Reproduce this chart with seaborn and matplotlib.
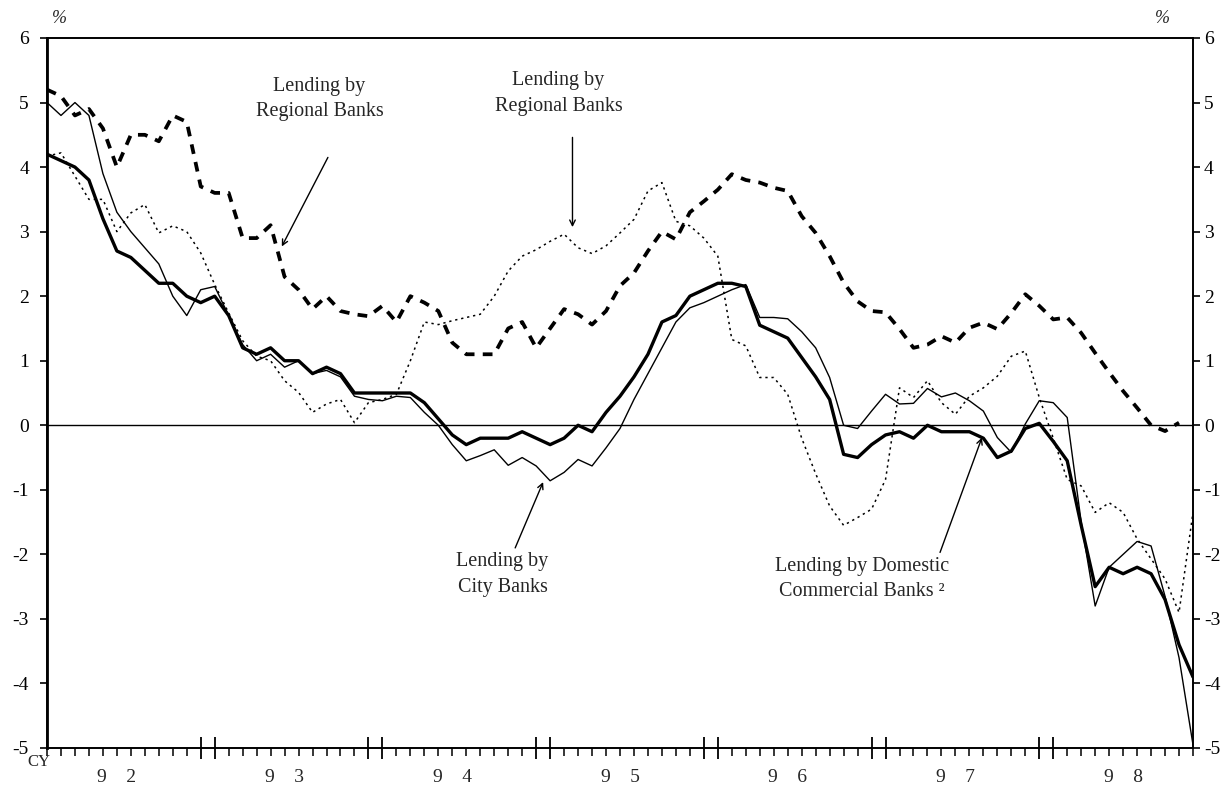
import numpy as np
import matplotlib
matplotlib.use("Agg")
import matplotlib.pyplot as plt
import seaborn as sns

# monthly, Jan 1992 .. Nov 1998 (month index 0 = Jan 92)
months = np.arange(83)
year_labels = ["9    2", "9    3", "9    4", "9    5", "9    6", "9    7", "9    8"]
year_starts = [0, 12, 24, 36, 48, 60, 72]

# thick solid: domestic commercial banks
domestic = [4.2, 4.1, 4.0, 3.8, 3.2, 2.7, 2.6, 2.4, 2.2, 2.2, 2.0, 1.9,
            2.0, 1.7, 1.2, 1.1, 1.2, 1.0, 1.0, 0.8, 0.9, 0.8, 0.5, 0.5,
            0.5, 0.5, 0.5, 0.35, 0.1, -0.15, -0.3, -0.2, -0.2, -0.2, -0.1, -0.2,
            -0.3, -0.2, 0.0, -0.1, 0.2, 0.45, 0.75, 1.1, 1.6, 1.7, 2.0, 2.1,
            2.2, 2.2, 2.15, 1.55, 1.45, 1.35, 1.05, 0.75, 0.4, -0.45, -0.5, -0.3,
            -0.15, -0.1, -0.2, 0.0, -0.1, -0.1, -0.1, -0.2, -0.5, -0.4, -0.05, 0.03,
            -0.25, -0.55, -1.55, -2.5, -2.2, -2.3, -2.2, -2.3, -2.7, -3.4, -3.9]

# thin solid: city banks
city = [5.0, 4.8, 5.0, 4.8, 3.9, 3.3, 3.0, 2.75, 2.5, 2.0, 1.7, 2.1,
        2.15, 1.7, 1.25, 1.0, 1.1, 0.9, 1.0, 0.8, 0.85, 0.75, 0.45, 0.4,
        0.38, 0.45, 0.43, 0.2, 0.0, -0.3, -0.55, -0.47, -0.38, -0.62, -0.5, -0.63,
        -0.86, -0.73, -0.53, -0.63, -0.35, -0.05, 0.4, 0.8, 1.2, 1.6, 1.82, 1.9,
        2.0, 2.1, 2.18, 1.67, 1.67, 1.65, 1.45, 1.2, 0.74, 0.0, -0.05, 0.22,
        0.48, 0.33, 0.34, 0.57, 0.44, 0.5, 0.38, 0.22, -0.19, -0.42, 0.02, 0.38,
        0.35, 0.12, -1.5, -2.8, -2.2, -2.0, -1.8, -1.87, -2.65, -3.6, -4.95]

# thick dashed: regional banks
regional = [5.2, 5.1, 4.8, 4.9, 4.6, 4.0, 4.5, 4.5, 4.4, 4.8, 4.7, 3.7,
            3.6, 3.6, 2.9, 2.9, 3.1, 2.3, 2.1, 1.8, 2.0, 1.77, 1.72, 1.69,
            1.85, 1.6, 2.0, 1.9, 1.77, 1.28, 1.1, 1.1, 1.1, 1.5, 1.6, 1.2,
            1.5, 1.8, 1.72, 1.56, 1.77, 2.16, 2.36, 2.7, 3.0, 2.88, 3.3, 3.47,
            3.65, 3.89, 3.8, 3.76, 3.68, 3.63, 3.24, 2.98, 2.62, 2.21, 1.92, 1.77,
            1.75, 1.49, 1.2, 1.25, 1.38, 1.28, 1.51, 1.59, 1.49, 1.74, 2.03, 1.85,
            1.64, 1.67, 1.43, 1.12, 0.82, 0.53, 0.27, 0.0, -0.09, 0.04, np.nan]

# thin dotted: regional banks (second group)
regional2 = [4.17, 4.22, 3.86, 3.5, 3.5, 3.0, 3.29, 3.42, 2.98, 3.09, 3.0, 2.67,
             2.18, 1.74, 1.31, 1.07, 1.0, 0.69, 0.51, 0.2, 0.33, 0.4, 0.04, 0.35,
             0.4, 0.48, 1.0, 1.6, 1.56, 1.62, 1.67, 1.72, 2.0, 2.39, 2.62, 2.72,
             2.85, 2.96, 2.75, 2.66, 2.78, 2.98, 3.19, 3.63, 3.76, 3.16, 3.09, 2.9,
             2.62, 1.33, 1.23, 0.74, 0.74, 0.48, -0.2, -0.75, -1.25, -1.55, -1.43, -1.3,
             -0.84, 0.58, 0.43, 0.69, 0.35, 0.17, 0.45, 0.58, 0.76, 1.07, 1.15, 0.43,
             -0.2, -0.84, -0.94, -1.35, -1.2, -1.35, -1.76, -2.07, -2.38, -2.9, -1.35]

sns.set_style("white")
plt.rcParams['font.family'] = ['Liberation Serif', 'DejaVu Serif']
plt.rcParams['axes.unicode_minus'] = False

fig = plt.figure(figsize=(12.29, 7.89), dpi=100)
ax = fig.add_axes([47/1229, 1 - 748/789, (1193 - 47)/1229, (748 - 38)/789])

ax.axhline(0, color='black', lw=1.0)

sns.lineplot(x=months, y=regional2, ax=ax, color='black', lw=1.1,
             linestyle=(0, (1.5, 2.5)))
sns.lineplot(x=months, y=regional, ax=ax, color='black', lw=2.7,
             linestyle=(0, (2.6, 2.2)))
sns.lineplot(x=months, y=city, ax=ax, color='black', lw=1.0)
sns.lineplot(x=months, y=domestic, ax=ax, color='black', lw=2.4)

ax.set_xlim(0, 82)
ax.set_ylim(-5, 6)
ax.set_yticks(range(-5, 7))
ax.tick_params(axis='y', left=True, right=False, labelleft=True, labelright=False,
               direction='out', length=5, width=1.2, labelsize=14, pad=8,
               colors='black')

# right-hand scale
ax2 = ax.twinx()
ax2.set_ylim(-5, 6)
ax2.set_yticks(range(-5, 7))
ax2.tick_params(axis='y', right=True, labelright=True, direction='out', length=5,
                width=1.2, labelsize=14, pad=3, colors='black')
ax2.grid(False)

# year boundary ticks (Dec / Jan) long, monthly ticks short
bounds = []
for s in year_starts[1:]:
    bounds += [s - 1, s]
ax.set_xticks(bounds)
ax.set_xticks(months, minor=True)
ax.set_xticklabels([])
ax.tick_params(axis='x', which='major', direction='inout', length=16, width=1.3,
               bottom=True, colors='black')
ax.tick_params(axis='x', which='minor', direction='out', length=6, width=1.1,
               bottom=True, colors='black')

for a in (ax, ax2):
    for sp in a.spines.values():
        sp.set_color('black')
        sp.set_linewidth(1.2)
ax.spines['left'].set_linewidth(2)
ax.set_xlabel('')
ax.set_ylabel('')

for s, lab in zip(year_starts, year_labels):
    ax.text(s + 5, -5.45, lab, ha='center', va='center', fontsize=14, clip_on=False)
ax.text(-0.55, -5.22, 'CY', ha='center', va='center', fontsize=12, clip_on=False)
ax.text(0.9, 6.3, '%', ha='center', va='center', fontsize=13, style='italic', clip_on=False)
ax.text(79.8, 6.3, '%', ha='center', va='center', fontsize=13, style='italic', clip_on=False)

arrow = dict(arrowstyle='->', color='black', lw=1.0, shrinkA=0, shrinkB=0)
txt = dict(ha='center', va='center', fontsize=14.5, linespacing=1.45)

ax.text(19.5, 5.05, 'Lending by\nRegional Banks', **txt)
ax.annotate('', xy=(16.8, 2.77), xytext=(20.1, 4.15), arrowprops=arrow)

ax.text(36.6, 5.14, 'Lending by\nRegional Banks', **txt)
ax.annotate('', xy=(37.6, 3.07), xytext=(37.6, 4.46), arrowprops=arrow)

ax.text(32.6, -2.31, 'Lending by\nCity Banks', **txt)
ax.annotate('', xy=(35.5, -0.88), xytext=(33.5, -1.9), arrowprops=arrow)

ax.text(58.3, -2.38, 'Lending by Domestic\nCommercial Banks \u00b2', **txt)
ax.annotate('', xy=(66.9, -0.19), xytext=(63.9, -1.97), arrowprops=arrow)

fig.savefig('out.png', dpi=100)
